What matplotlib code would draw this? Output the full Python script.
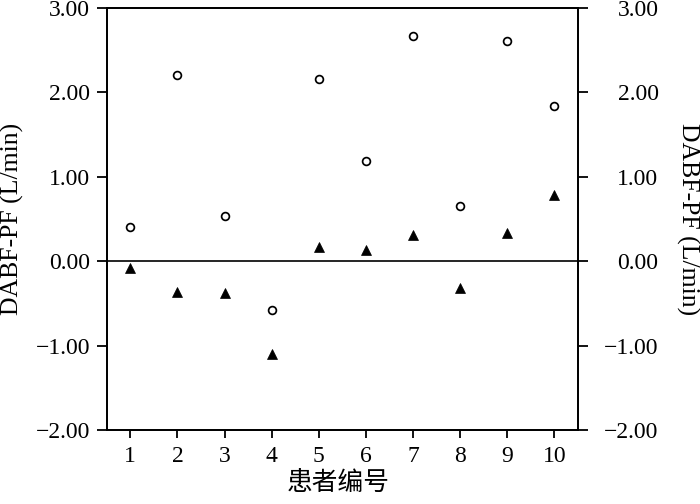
import matplotlib
matplotlib.use("Agg")
import matplotlib.pyplot as plt

# Patient numbers and the two measured series
patients = [1, 2, 3, 4, 5, 6, 7, 8, 9, 10]
circle_vals = [0.40, 2.21, 0.53, -0.58, 2.16, 1.19, 2.67, 0.66, 2.61, 1.84]
triangle_vals = [-0.08, -0.37, -0.38, -1.10, 0.17, 0.13, 0.31, -0.32, 0.34, 0.78]

y_ticks = [-2, -1, 0, 1, 2, 3]
y_tick_labels = ["\u22122.00", "\u22121.00", "0.00", "1.00", "2.00", "3.00"]
x_tick_labels = [str(p) for p in patients]

ylabel = "DABF-PF (L/min)"
xlabel = "患者编号"

serif = ["Liberation Serif", "DejaVu Serif"]
cjk = ["Noto Sans CJK SC", "DejaVu Sans"]

fig = plt.figure(figsize=(7.0, 5.04), dpi=100)
ax = fig.add_axes([0.1524, 0.1468, 0.6733, 0.8373])

ax.axhline(0, color="black", linewidth=1.2, zorder=1)
ax.plot(patients, circle_vals, linestyle="none", marker="o", markersize=5.6,
        markerfacecolor="white", markeredgecolor="black", markeredgewidth=1.25,
        zorder=3)
ax.plot(patients, triangle_vals, linestyle="none", marker="^", markersize=6.5,
        markerfacecolor="black", markeredgecolor="black", markeredgewidth=0.5,
        zorder=3)

ax.set_xlim(0.5, 10.5)
ax.set_ylim(-2, 3)
ax.set_xticks(patients)
ax.set_xticklabels(x_tick_labels, fontfamily=serif, fontsize=17)
ax.set_yticks(y_ticks)
ax.set_yticklabels(y_tick_labels, fontfamily=serif, fontsize=17)

for sp in ax.spines.values():
    sp.set_linewidth(1.3)

ax.tick_params(axis="y", direction="out", length=7, width=1.3, pad=5)
ax.tick_params(axis="x", direction="out", length=5.5, width=1.3, pad=6)

ax2 = ax.twinx()
ax2.set_ylim(ax.get_ylim())
ax2.set_yticks(y_ticks)
ax2.set_yticklabels(y_tick_labels, fontfamily=serif, fontsize=17)
ax2.tick_params(axis="y", direction="out", length=7, width=1.3, pad=51)
for lab in ax2.get_yticklabels():
    lab.set_horizontalalignment("right")
for sp in ax2.spines.values():
    sp.set_linewidth(1.3)

ax.set_ylabel(ylabel, fontfamily=serif, fontsize=18.5, va="center")
ax.yaxis.set_label_coords(-0.2, 0.5)
ax2.set_ylabel(ylabel, fontfamily=serif, fontsize=18.5, rotation=270, va="center")
ax2.yaxis.set_label_coords(1.233, 0.5)

ax.set_xlabel(xlabel, fontfamily=cjk, fontsize=18.5, va="center")
ax.xaxis.set_label_coords(0.492, -0.125)

fig.savefig("out.png", dpi=100)
